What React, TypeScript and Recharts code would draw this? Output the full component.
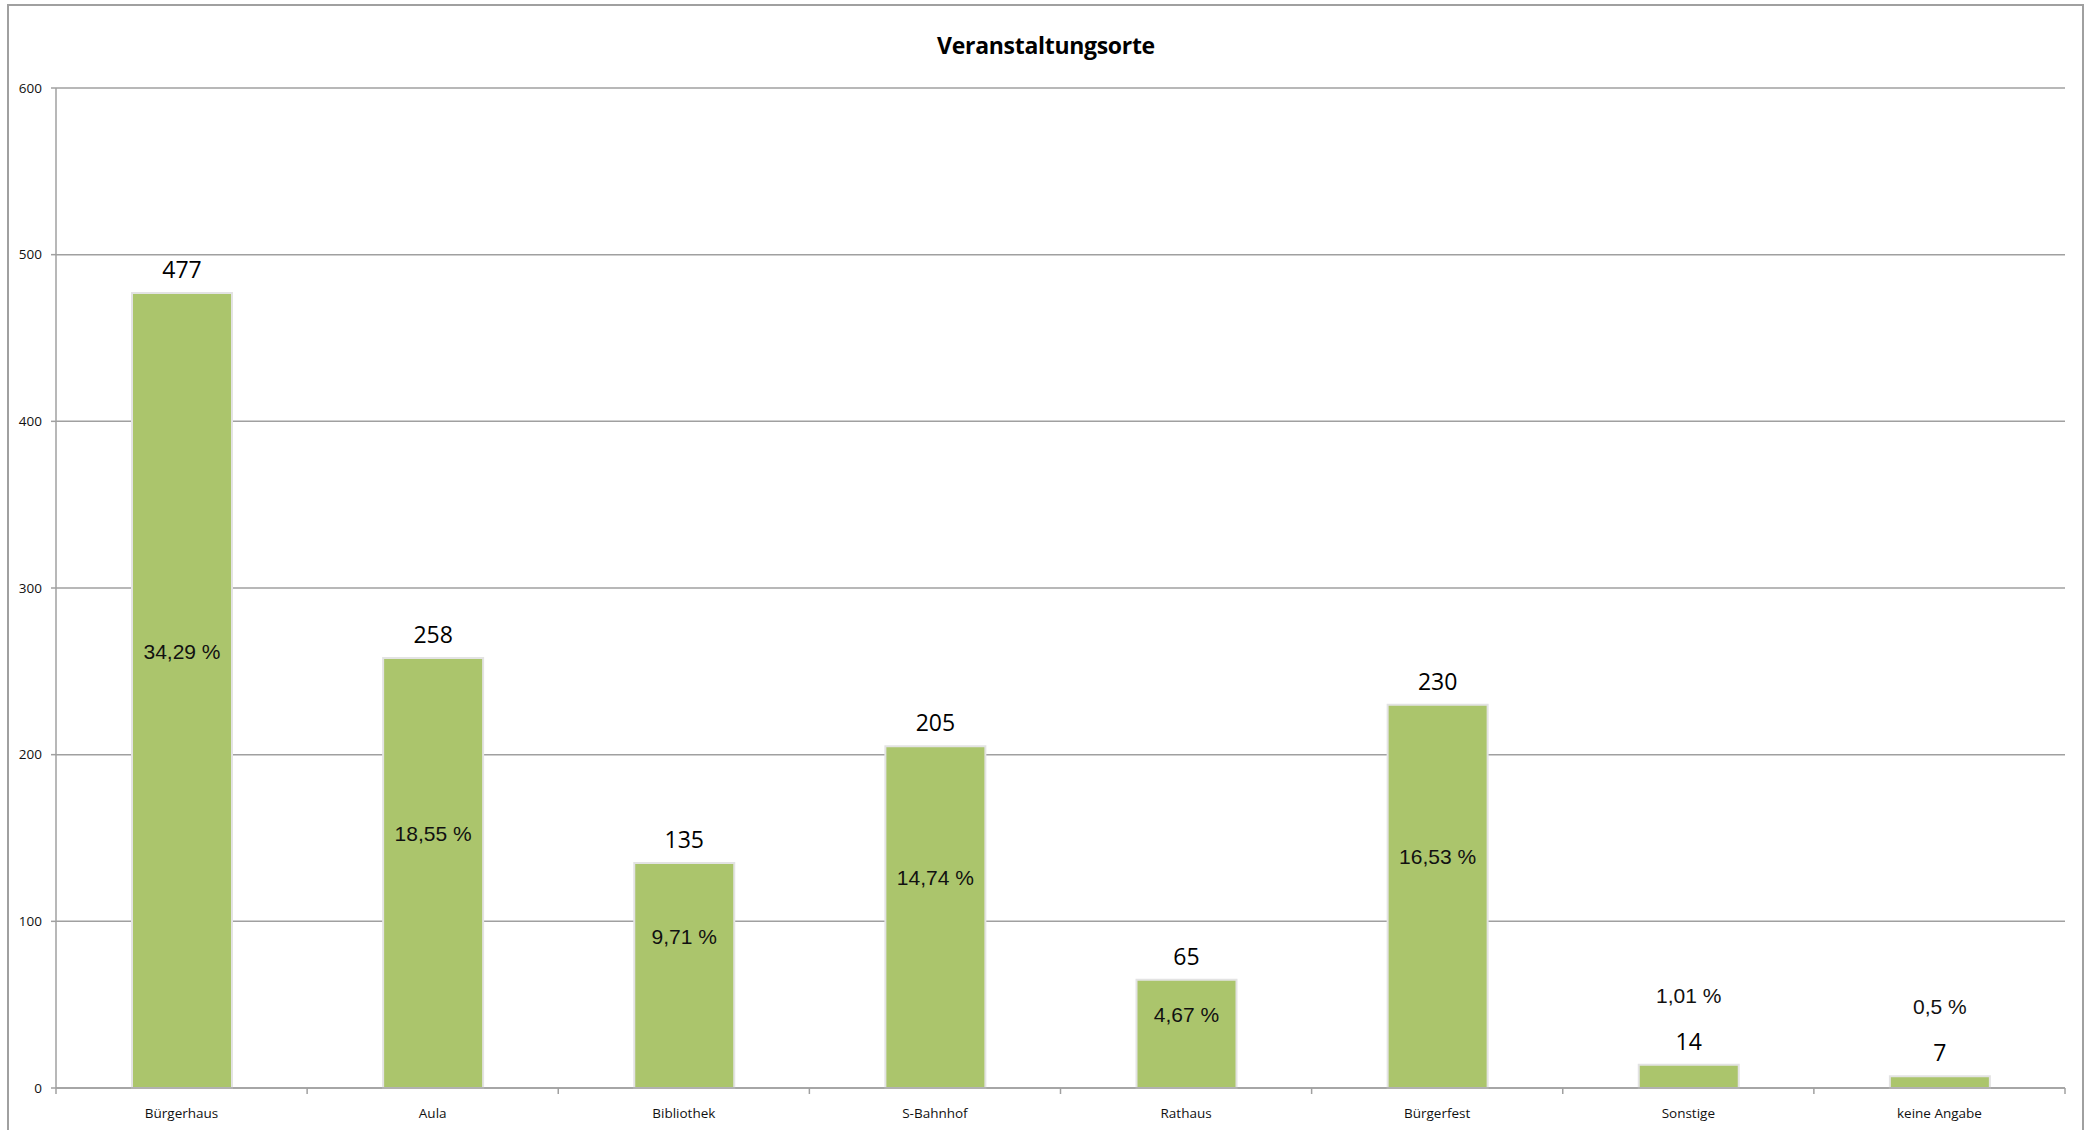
import React from "react";
import {
  BarChart,
  Bar,
  XAxis,
  YAxis,
  CartesianGrid,
  LabelList,
} from "recharts";

const categories = [
  "Bürgerhaus",
  "Aula",
  "Bibliothek",
  "S-Bahnhof",
  "Rathaus",
  "Bürgerfest",
  "Sonstige",
  "keine Angabe",
];
const counts = [477, 258, 135, 205, 65, 230, 14, 7];
const shares = ["34,29 %", "18,55 %", "9,71 %", "14,74 %", "4,67 %", "16,53 %", "1,01 %", "0,5 %"];
const yTicks = [0, 100, 200, 300, 400, 500, 600];

const data = categories.map((name, i) => ({ name, count: counts[i], share: shares[i] }));

const W = 2089;
const H = 1130;
const MARGIN = { top: 88, right: 24, bottom: 12, left: 16 };
const Y_AXIS_W = 40;
const PLOT_W = W - MARGIN.left - MARGIN.right - Y_AXIS_W;
const BAND = PLOT_W / categories.length;

const LABEL_FONT = "'Open Sans', sans-serif";
const GRAY = "#a0a0a0";

// x-axis tick: label in the middle, little tick marks at the category borders (excel style)
const CategoryTick = (props: any) => {
  const { x, y, payload, index } = props;
  const last = index === categories.length - 1;
  return (
    <g>
      <line x1={x - BAND / 2} x2={x - BAND / 2} y1={y} y2={y + 6} stroke={GRAY} strokeWidth={1.5} />
      {last && <line x1={x + BAND / 2} x2={x + BAND / 2} y1={y} y2={y + 6} stroke={GRAY} strokeWidth={1.5} />}
      <text x={x} y={y + 30} textAnchor="middle" fontSize={13.5} fontFamily={LABEL_FONT} fill="#111">
        {payload.value}
      </text>
    </g>
  );
};

// percentage label: inside the bar (a bit above the middle), above the count for tiny bars
const ShareLabel = (props: any) => {
  const { x, y, width, height, value } = props;
  const cx = x + width / 2;
  let ty;
  if (height < 40) {
    ty = y - 62;
  } else {
    ty = Math.max(y + 42, y + height / 2 - 32);
  }
  return (
    <text x={cx} y={ty} textAnchor="middle" fontSize={21} fontFamily="'Liberation Sans', Arial, sans-serif" fill="#111">
      {value}
    </text>
  );
};

export default function App() {
  return (
    <div style={{ position: "fixed", left: 0, top: 0, width: W, height: H, background: "#fff", overflow: "hidden" }}>
      <div
        style={{
          position: "absolute",
          left: 7,
          top: 4,
          width: 2077,
          height: H + 20,
          border: `2px solid ${GRAY}`,
          boxSizing: "border-box",
        }}
      />
      <div
        style={{
          position: "absolute",
          left: 0,
          top: 27,
          width: 2092,
          textAlign: "center",
          fontFamily: LABEL_FONT,
          fontWeight: 700,
          fontSize: 23,
          letterSpacing: -0.3,
          lineHeight: "36px",
          color: "#000",
        }}
      >
        Veranstaltungsorte
      </div>
      <div style={{ position: "absolute", left: 0, top: 0 }}>
        <BarChart width={W} height={H} data={data} margin={MARGIN} barSize={100}>
          <CartesianGrid vertical={false} stroke={GRAY} strokeWidth={1.5} />
          <XAxis
            dataKey="name"
            interval={0}
            height={30}
            tickSize={0}
            tickMargin={0}
            tickLine={false}
            axisLine={{ stroke: GRAY, strokeWidth: 1.5 }}
            tick={<CategoryTick />}
          />
          <YAxis
            width={Y_AXIS_W}
            domain={[0, 600]}
            ticks={yTicks}
            interval={0}
            tickSize={5}
            tickMargin={9}
            tickLine={{ stroke: GRAY, strokeWidth: 1.5 }}
            axisLine={{ stroke: GRAY, strokeWidth: 1.5 }}
            tick={{ fontSize: 13.5, fontFamily: LABEL_FONT, fill: "#111" }}
          />
          <Bar dataKey="count" fill="#abc56c" stroke="#e3e3e3" strokeWidth={2} isAnimationActive={false}>
            <LabelList dataKey="count" position="top" offset={15} fontSize={23} fontFamily={LABEL_FONT} fill="#000" />
            <LabelList dataKey="share" content={<ShareLabel />} />
          </Bar>
        </BarChart>
      </div>
    </div>
  );
}
